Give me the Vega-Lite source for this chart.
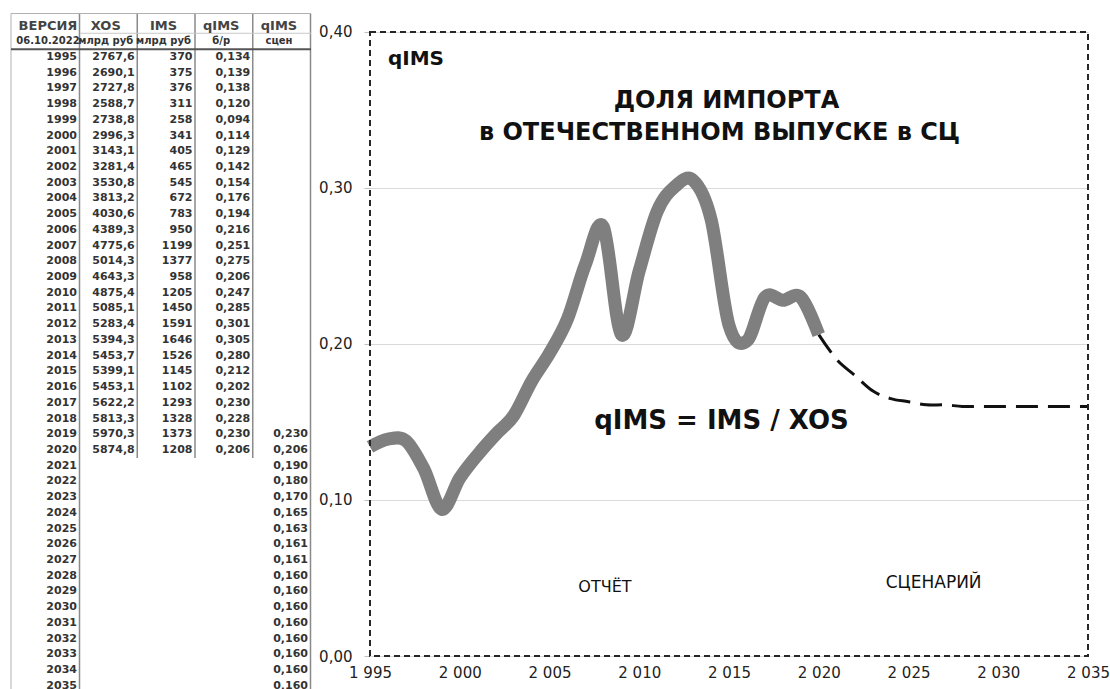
{
  "$schema": "https://vega.github.io/schema/vega-lite/v6.json",
  "padding": 0,
  "spacing": 6,
  "background": "white",
  "config": {
    "locale": {"number": {"decimal": ",", "thousands": "\u00a0", "grouping": [3], "currency": ["", ""]}},
    "view": {"stroke": null},
    "text": {"font": "DejaVu Sans"}
  },
  "datasets": {
    "main": [
      {"year": 1995, "XOS": 2767.6, "IMS": 370, "qIMS": 0.134},
      {"year": 1996, "XOS": 2690.1, "IMS": 375, "qIMS": 0.139},
      {"year": 1997, "XOS": 2727.8, "IMS": 376, "qIMS": 0.138},
      {"year": 1998, "XOS": 2588.7, "IMS": 311, "qIMS": 0.120},
      {"year": 1999, "XOS": 2738.8, "IMS": 258, "qIMS": 0.094},
      {"year": 2000, "XOS": 2996.3, "IMS": 341, "qIMS": 0.114},
      {"year": 2001, "XOS": 3143.1, "IMS": 405, "qIMS": 0.129},
      {"year": 2002, "XOS": 3281.4, "IMS": 465, "qIMS": 0.142},
      {"year": 2003, "XOS": 3530.8, "IMS": 545, "qIMS": 0.154},
      {"year": 2004, "XOS": 3813.2, "IMS": 672, "qIMS": 0.176},
      {"year": 2005, "XOS": 4030.6, "IMS": 783, "qIMS": 0.194},
      {"year": 2006, "XOS": 4389.3, "IMS": 950, "qIMS": 0.216},
      {"year": 2007, "XOS": 4775.6, "IMS": 1199, "qIMS": 0.251},
      {"year": 2008, "XOS": 5014.3, "IMS": 1377, "qIMS": 0.275},
      {"year": 2009, "XOS": 4643.3, "IMS": 958, "qIMS": 0.206},
      {"year": 2010, "XOS": 4875.4, "IMS": 1205, "qIMS": 0.247},
      {"year": 2011, "XOS": 5085.1, "IMS": 1450, "qIMS": 0.285},
      {"year": 2012, "XOS": 5283.4, "IMS": 1591, "qIMS": 0.301},
      {"year": 2013, "XOS": 5394.3, "IMS": 1646, "qIMS": 0.305},
      {"year": 2014, "XOS": 5453.7, "IMS": 1526, "qIMS": 0.280},
      {"year": 2015, "XOS": 5399.1, "IMS": 1145, "qIMS": 0.212},
      {"year": 2016, "XOS": 5453.1, "IMS": 1102, "qIMS": 0.202},
      {"year": 2017, "XOS": 5622.2, "IMS": 1293, "qIMS": 0.230},
      {"year": 2018, "XOS": 5813.3, "IMS": 1328, "qIMS": 0.228},
      {"year": 2019, "XOS": 5970.3, "IMS": 1373, "qIMS": 0.230, "qIMSs": 0.230},
      {"year": 2020, "XOS": 5874.8, "IMS": 1208, "qIMS": 0.206, "qIMSs": 0.206},
      {"year": 2021, "qIMSs": 0.190},
      {"year": 2022, "qIMSs": 0.180},
      {"year": 2023, "qIMSs": 0.170},
      {"year": 2024, "qIMSs": 0.165},
      {"year": 2025, "qIMSs": 0.163},
      {"year": 2026, "qIMSs": 0.161},
      {"year": 2027, "qIMSs": 0.161},
      {"year": 2028, "qIMSs": 0.160},
      {"year": 2029, "qIMSs": 0.160},
      {"year": 2030, "qIMSs": 0.160},
      {"year": 2031, "qIMSs": 0.160},
      {"year": 2032, "qIMSs": 0.160},
      {"year": 2033, "qIMSs": 0.160},
      {"year": 2034, "qIMSs": 0.160},
      {"year": 2035, "qIMSs": 0.160}
    ],
    "headers": [
      {"year": "h1", "col": "year", "t": "ВЕРСИЯ"},
      {"year": "h1", "col": "XOS", "t": "XOS"},
      {"year": "h1", "col": "IMS", "t": "IMS"},
      {"year": "h1", "col": "qIMS", "t": "qIMS"},
      {"year": "h1", "col": "qIMSs", "t": "qIMS"},
      {"year": "h2", "col": "year", "t": "06.10.2022"},
      {"year": "h2", "col": "XOS", "t": "млрд руб"},
      {"year": "h2", "col": "IMS", "t": "млрд руб"},
      {"year": "h2", "col": "qIMS", "t": "б/р"},
      {"year": "h2", "col": "qIMSs", "t": "сцен"}
    ]
  },
  "hconcat": [
    {
      "width": 312,
      "height": 689,
      "view": {"stroke": null, "fill": "white"},
      "layer": [
        {
          "data": {"values": [{"col": "year"}, {"col": "qIMSs"}]},
          "mark": {"type": "rule", "color": "#8a8a8a", "strokeWidth": 1.5, "xOffset": 2.5, "yOffset": -12, "y2Offset": 8},
          "encoding": {
            "x": {"field": "col", "type": "ordinal", "scale": {"type": "point", "domain": ["year", "XOS", "IMS", "qIMS", "qIMSs"], "padding": 0.7013, "align": 0.9506}, "axis": null},
            "y": {"datum": "h1", "type": "ordinal", "scale": {"type": "point", "domain": ["h1", "h2", 1995, 1996, 1997, 1998, 1999, 2000, 2001, 2002, 2003, 2004, 2005, 2006, 2007, 2008, 2009, 2010, 2011, 2012, 2013, 2014, 2015, 2016, 2017, 2018, 2019, 2020, 2021, 2022, 2023, 2024, 2025, 2026, 2027, 2028, 2029, 2030, 2031, 2032, 2033, 2034, 2035], "padding": 0.915, "align": 0.8875}, "axis": null},
            "y2": {"datum": 2035}
          }
        },
        {
          "data": {"values": [{"col": "XOS"}, {"col": "IMS"}, {"col": "qIMS"}]},
          "mark": {"type": "rule", "color": "#8a8a8a", "strokeWidth": 1.5, "xOffset": 2.5, "yOffset": -12, "y2Offset": 8},
          "encoding": {
            "x": {"field": "col", "type": "ordinal"},
            "y": {"datum": "h1", "type": "ordinal"},
            "y2": {"datum": 2020}
          }
        },
        {
          "data": {"values": [{}]},
          "mark": {"type": "rule", "color": "#cccccc", "strokeWidth": 1.5, "xOffset": -66, "yOffset": -12, "y2Offset": 8},
          "encoding": {
            "x": {"datum": "year", "type": "ordinal"},
            "y": {"datum": "h1", "type": "ordinal"},
            "y2": {"datum": 2035}
          }
        },
        {
          "data": {"values": [{}]},
          "mark": {"type": "rule", "color": "#b0b0b0", "strokeWidth": 1, "xOffset": -66, "x2Offset": 3, "yOffset": -12},
          "encoding": {
            "x": {"datum": "year", "type": "ordinal"},
            "x2": {"datum": "qIMSs"},
            "y": {"datum": "h1", "type": "ordinal"}
          }
        },
        {
          "data": {"values": [{}]},
          "mark": {"type": "rule", "color": "#c8c8c8", "strokeWidth": 1, "xOffset": 3, "x2Offset": 3, "yOffset": -8},
          "encoding": {
            "x": {"datum": "year", "type": "ordinal"},
            "x2": {"datum": "qIMSs"},
            "y": {"datum": "h2", "type": "ordinal"}
          }
        },
        {
          "data": {"values": [{}]},
          "mark": {"type": "rule", "color": "#555555", "strokeWidth": 2, "xOffset": -66, "x2Offset": 3, "yOffset": 8},
          "encoding": {
            "x": {"datum": "year", "type": "ordinal"},
            "x2": {"datum": "qIMSs"},
            "y": {"datum": "h2", "type": "ordinal"}
          }
        },
        {
          "data": {"name": "headers"},
          "transform": [{"filter": "datum.year === 'h1'"}],
          "mark": {"type": "text", "align": "center", "baseline": "middle", "dx": -29, "fontSize": 13, "fontWeight": "bold", "color": "#444444"},
          "encoding": {
            "x": {"field": "col", "type": "ordinal"},
            "y": {"field": "year", "type": "ordinal"},
            "text": {"field": "t"}
          }
        },
        {
          "data": {"name": "headers"},
          "transform": [{"filter": "datum.year === 'h2'"}],
          "mark": {"type": "text", "align": "center", "baseline": "middle", "dx": -29, "fontSize": 10, "fontWeight": "bold", "color": "#333333"},
          "encoding": {
            "x": {"field": "col", "type": "ordinal"},
            "y": {"field": "year", "type": "ordinal"},
            "text": {"field": "t"}
          }
        },
        {
          "data": {"name": "main"},
          "mark": {"type": "text", "align": "right", "baseline": "middle", "fontSize": 11, "fontWeight": "bold", "color": "#333333"},
          "encoding": {
            "x": {"datum": "year", "type": "ordinal"},
            "y": {"field": "year", "type": "ordinal"},
            "text": {"field": "year", "type": "quantitative", "format": "d"}
          }
        },
        {
          "data": {"name": "main"},
          "transform": [{"filter": {"field": "XOS", "valid": true}}],
          "mark": {"type": "text", "align": "right", "baseline": "middle", "fontSize": 11, "fontWeight": "bold", "color": "#333333"},
          "encoding": {
            "x": {"datum": "XOS", "type": "ordinal"},
            "y": {"field": "year", "type": "ordinal"},
            "text": {"field": "XOS", "type": "quantitative", "format": ".1f"}
          }
        },
        {
          "data": {"name": "main"},
          "transform": [{"filter": {"field": "IMS", "valid": true}}],
          "mark": {"type": "text", "align": "right", "baseline": "middle", "fontSize": 11, "fontWeight": "bold", "color": "#333333"},
          "encoding": {
            "x": {"datum": "IMS", "type": "ordinal"},
            "y": {"field": "year", "type": "ordinal"},
            "text": {"field": "IMS", "type": "quantitative", "format": "d"}
          }
        },
        {
          "data": {"name": "main"},
          "transform": [{"filter": {"field": "qIMS", "valid": true}}],
          "mark": {"type": "text", "align": "right", "baseline": "middle", "fontSize": 11, "fontWeight": "bold", "color": "#333333"},
          "encoding": {
            "x": {"datum": "qIMS", "type": "ordinal"},
            "y": {"field": "year", "type": "ordinal"},
            "text": {"field": "qIMS", "type": "quantitative", "format": ".3f"}
          }
        },
        {
          "data": {"name": "main"},
          "transform": [{"filter": {"field": "qIMSs", "valid": true}}],
          "mark": {"type": "text", "align": "right", "baseline": "middle", "fontSize": 11, "fontWeight": "bold", "color": "#333333"},
          "encoding": {
            "x": {"datum": "qIMSs", "type": "ordinal"},
            "y": {"field": "year", "type": "ordinal"},
            "text": {"field": "qIMSs", "type": "quantitative", "format": ".3f"}
          }
        }
      ]
    },
    {
      "width": 718,
      "height": 656,
      "view": {"stroke": null, "fill": "white"},
      "layer": [
        {
          "data": {"name": "main"},
          "transform": [{"filter": "datum.year >= 2020"}],
          "mark": {"type": "line", "interpolate": "cardinal", "color": "#111111", "strokeWidth": 3, "strokeDash": [22, 10]},
          "encoding": {
            "x": {"field": "year", "type": "quantitative", "scale": {"domain": [1995, 2035], "nice": false, "zero": false},
              "axis": {"values": [1995, 2000, 2005, 2010, 2015, 2020, 2025, 2030, 2035], "format": ",d", "title": null, "domain": false, "grid": false, "ticks": false, "labelPadding": 9, "labelFlush": false, "labelFont": "DejaVu Sans", "labelFontSize": 15, "labelColor": "#222222"}},
            "y": {"field": "qIMSs", "type": "quantitative", "scale": {"domain": [0, 0.42051], "nice": false, "zero": false},
              "axis": {"values": [0, 0.1, 0.2, 0.3, 0.4], "format": ".2f", "title": null, "domain": false, "grid": true, "gridColor": "#d9d9d9", "tickColor": "#c0c0c0", "tickSize": 6, "labelPadding": 12, "labelFont": "DejaVu Sans", "labelFontSize": 15, "labelColor": "#222222"}}
          }
        },
        {
          "data": {"name": "main"},
          "mark": {"type": "line", "interpolate": "cardinal", "color": "#7f7f7f", "strokeWidth": 13, "strokeJoin": "round"},
          "encoding": {
            "x": {"field": "year", "type": "quantitative"},
            "y": {"field": "qIMS", "type": "quantitative"}
          }
        },
        {
          "data": {"values": [{}]},
          "mark": {"type": "rect", "fill": "white", "fillOpacity": 0, "stroke": "#262626", "strokeWidth": 2, "strokeDash": [6, 4]},
          "encoding": {
            "x": {"datum": 1995, "type": "quantitative"},
            "x2": {"datum": 2035},
            "y": {"datum": 0, "type": "quantitative"},
            "y2": {"datum": 0.4}
          }
        },
        {
          "data": {"values": [{}]},
          "mark": {"type": "text", "text": "qIMS", "align": "left", "baseline": "middle", "fontSize": 20, "fontWeight": "bold", "color": "#111111"},
          "encoding": {"x": {"datum": 1996.0, "type": "quantitative"}, "y": {"datum": 0.3827, "type": "quantitative"}}
        },
        {
          "data": {"values": [{}]},
          "mark": {"type": "text", "text": "ДОЛЯ ИМПОРТА", "align": "center", "baseline": "middle", "fontSize": 24, "fontWeight": "bold", "color": "#111111"},
          "encoding": {"x": {"datum": 2014.86, "type": "quantitative"}, "y": {"datum": 0.3555, "type": "quantitative"}}
        },
        {
          "data": {"values": [{}]},
          "mark": {"type": "text", "text": "в ОТЕЧЕСТВЕННОМ ВЫПУСКЕ в СЦ", "align": "center", "baseline": "middle", "fontSize": 24, "fontWeight": "bold", "color": "#111111"},
          "encoding": {"x": {"datum": 2014.47, "type": "quantitative"}, "y": {"datum": 0.3355, "type": "quantitative"}}
        },
        {
          "data": {"values": [{}]},
          "mark": {"type": "text", "text": "qIMS = IMS / XOS", "align": "center", "baseline": "middle", "fontSize": 26, "fontWeight": "bold", "color": "#111111"},
          "encoding": {"x": {"datum": 2014.58, "type": "quantitative"}, "y": {"datum": 0.1506, "type": "quantitative"}}
        },
        {
          "data": {"values": [{}]},
          "mark": {"type": "text", "text": "ОТЧЁТ", "align": "center", "baseline": "middle", "fontSize": 16, "color": "#111111"},
          "encoding": {"x": {"datum": 2008.09, "type": "quantitative"}, "y": {"datum": 0.0442, "type": "quantitative"}}
        },
        {
          "data": {"values": [{}]},
          "mark": {"type": "text", "text": "СЦЕНАРИЙ", "align": "center", "baseline": "middle", "fontSize": 17, "color": "#111111"},
          "encoding": {"x": {"datum": 2026.4, "type": "quantitative"}, "y": {"datum": 0.0468, "type": "quantitative"}}
        }
      ]
    }
  ]
}
